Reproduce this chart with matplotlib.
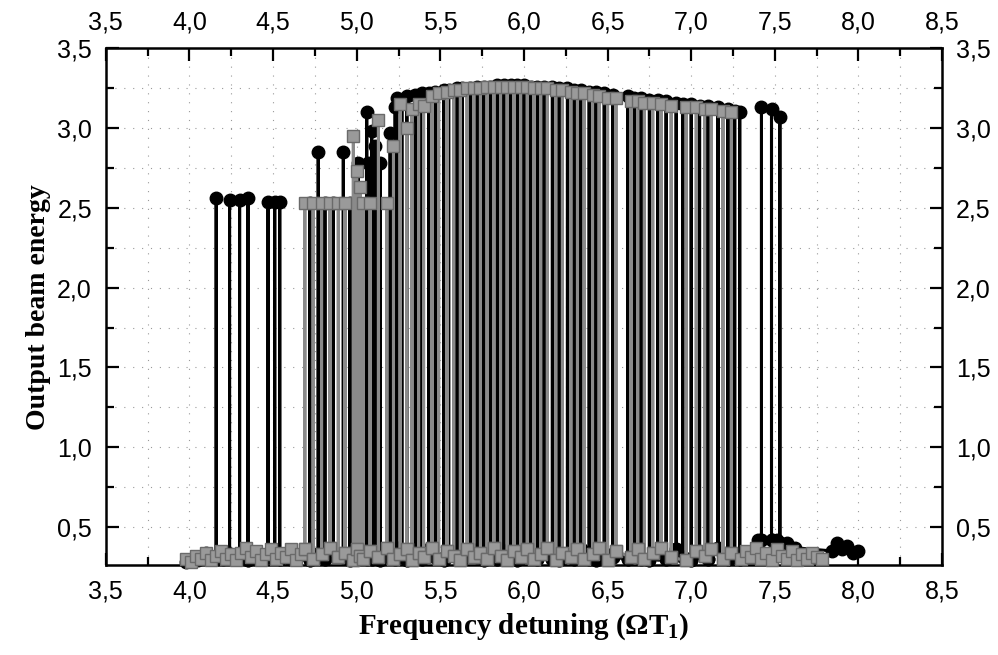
import numpy as np
import matplotlib
matplotlib.use("Agg")
import matplotlib.pyplot as plt
from matplotlib.ticker import MultipleLocator, FuncFormatter

plt.rcParams['mathtext.default'] = 'regular'

# black circles: spikes from the low branch up to the upper branch
black_spike_x = [4.16, 4.24, 4.30, 4.35, 4.47, 4.51, 4.54, 4.72, 4.77, 4.81, 4.86, 4.92,
                 4.96, 5.01, 5.06, 5.07, 5.09, 5.11, 5.14, 5.20, 5.23, 5.24, 5.27, 5.30,
                 5.35, 5.39, 5.43, 5.47, 5.52, 5.55, 5.60, 5.63, 5.68, 5.72, 5.76, 5.80,
                 5.84, 5.88, 5.92, 5.96, 6.00, 6.04, 6.08, 6.12, 6.17, 6.21, 6.26, 6.30,
                 6.34, 6.39, 6.43, 6.48, 6.53, 6.62, 6.66, 6.70, 6.75, 6.80, 6.85, 6.91,
                 6.95, 7.00, 7.05, 7.10, 7.16, 7.22, 7.26, 7.29, 7.42, 7.48, 7.53]
black_spike_y = [2.56, 2.55, 2.55, 2.56, 2.54, 2.54, 2.54, 2.53, 2.85, 2.53, 2.53, 2.85,
                 2.53, 2.78, 3.10, 2.78, 2.98, 2.89, 2.78, 2.97, 3.13, 3.19, 3.18, 3.20,
                 3.21, 3.22, 3.22, 3.23, 3.24, 3.24, 3.25, 3.25, 3.25, 3.26, 3.26, 3.26,
                 3.27, 3.27, 3.27, 3.27, 3.27, 3.26, 3.26, 3.26, 3.26, 3.25, 3.25, 3.24,
                 3.24, 3.23, 3.23, 3.22, 3.21, 3.20, 3.19, 3.19, 3.18, 3.18, 3.17, 3.16,
                 3.15, 3.15, 3.14, 3.14, 3.13, 3.12, 3.11, 3.10, 3.13, 3.12, 3.07]
black_spike_low = [0.30, 0.33, 0.30, 0.29, 0.31, 0.34, 0.30, 0.29, 0.33, 0.30, 0.36, 0.31,
                   0.29, 0.33, 0.30, 0.35, 0.30, 0.31, 0.29, 0.34, 0.30, 0.37, 0.31, 0.29,
                   0.33, 0.30, 0.36, 0.31, 0.29, 0.34, 0.31, 0.30, 0.37, 0.31, 0.29, 0.33,
                   0.30, 0.35, 0.31, 0.29, 0.34, 0.31, 0.30, 0.37, 0.30, 0.29, 0.33, 0.30,
                   0.36, 0.30, 0.29, 0.34, 0.31, 0.30, 0.37, 0.30, 0.29, 0.33, 0.30, 0.36,
                   0.31, 0.29, 0.34, 0.30, 0.37, 0.30, 0.31, 0.30, 0.42, 0.42, 0.40]
# black circles staying on the low branch
black_base_x = [3.98, 4.05, 4.10, 4.20, 4.40, 4.60, 7.40, 7.51, 7.57, 7.62, 7.84, 7.87,
                7.90, 7.93, 7.97, 8.00]
black_base_y = [0.28, 0.29, 0.34, 0.30, 0.30, 0.30, 0.42, 0.42, 0.40, 0.37, 0.35, 0.40,
                0.36, 0.38, 0.34, 0.35]

# grey squares
grey_spike_x = [4.69, 4.74, 4.79, 4.84, 4.89, 4.93, 4.98, 5.00, 5.02, 5.04, 5.08, 5.13,
                5.18, 5.22, 5.26, 5.30, 5.33, 5.37, 5.40, 5.45, 5.49, 5.54, 5.58, 5.62,
                5.66, 5.70, 5.74, 5.78, 5.82, 5.86, 5.90, 5.94, 5.98, 6.02, 6.06, 6.10,
                6.14, 6.19, 6.23, 6.28, 6.32, 6.36, 6.41, 6.45, 6.50, 6.55, 6.64, 6.68,
                6.72, 6.77, 6.82, 6.88, 6.97, 7.03, 7.08, 7.12, 7.19, 7.24]
grey_spike_y = [2.53, 2.53, 2.53, 2.53, 2.53, 2.53, 2.95, 2.73, 2.63, 2.53, 2.53, 3.05,
                2.53, 2.89, 3.15, 3.00, 3.12, 3.15, 3.14, 3.20, 3.22, 3.23, 3.24, 3.24,
                3.25, 3.25, 3.25, 3.26, 3.26, 3.26, 3.26, 3.26, 3.26, 3.26, 3.25, 3.25,
                3.25, 3.24, 3.24, 3.23, 3.22, 3.22, 3.21, 3.20, 3.19, 3.19, 3.17, 3.17,
                3.16, 3.16, 3.15, 3.14, 3.13, 3.13, 3.12, 3.12, 3.11, 3.10]
grey_spike_low = [0.36, 0.30, 0.33, 0.37, 0.31, 0.34, 0.29, 0.36, 0.32, 0.30, 0.35, 0.31,
                  0.37, 0.30, 0.33, 0.36, 0.29, 0.34, 0.31, 0.37, 0.30, 0.35, 0.32, 0.29,
                  0.36, 0.31, 0.34, 0.30, 0.37, 0.32, 0.29, 0.35, 0.31, 0.36, 0.30, 0.33,
                  0.37, 0.29, 0.34, 0.31, 0.36, 0.30, 0.33, 0.37, 0.29, 0.35, 0.31, 0.36,
                  0.30, 0.34, 0.37, 0.31, 0.29, 0.35, 0.32, 0.36, 0.30, 0.34]
grey_base_x = [3.98, 4.01, 4.04, 4.07, 4.10, 4.13, 4.16, 4.19, 4.22, 4.25, 4.28, 4.31,
               4.34, 4.37, 4.40, 4.43, 4.46, 4.49, 4.52, 4.55, 4.58, 4.61, 4.64, 4.67,
               7.30, 7.33, 7.36, 7.39, 7.42, 7.45, 7.48, 7.51, 7.54, 7.57, 7.60, 7.63,
               7.66, 7.69, 7.72, 7.75, 7.78]
grey_base_y = [0.30, 0.28, 0.32, 0.30, 0.34, 0.29, 0.32, 0.35, 0.30, 0.33, 0.29, 0.34,
               0.37, 0.31, 0.35, 0.29, 0.33, 0.36, 0.30, 0.34, 0.31, 0.36, 0.29, 0.33,
               0.30, 0.35, 0.31, 0.37, 0.30, 0.34, 0.29, 0.36, 0.32, 0.30, 0.35, 0.29,
               0.33, 0.30, 0.34, 0.31, 0.30]

ticks_x = [3.5, 4.0, 4.5, 5.0, 5.5, 6.0, 6.5, 7.0, 7.5, 8.0, 8.5]
ticks_y = [0.5, 1.0, 1.5, 2.0, 2.5, 3.0, 3.5]


def trace(sx, sy, slow, bx, by):
    # each spike: low -> high -> low at the same detuning
    pts = [(x, lo, hi) for x, hi, lo in zip(sx, sy, slow)]
    pts += [(x, y, None) for x, y in zip(bx, by)]
    pts.sort(key=lambda p: p[0])
    xs, ys = [], []
    for x, lo, hi in pts:
        if hi is None:
            xs.append(x); ys.append(lo)
        else:
            xs += [x, x, x]; ys += [lo, hi, lo]
    return xs, ys


fig = plt.figure(figsize=(9.98, 6.55), dpi=100)
ax = fig.add_axes([0.106, 0.137, 0.838, 0.789])

bx, by = trace(black_spike_x, black_spike_y, black_spike_low, black_base_x, black_base_y)
gx, gy = trace(grey_spike_x, grey_spike_y, grey_spike_low, grey_base_x, grey_base_y)

ax.plot(bx, by, '-', color='black', lw=2.2, marker='o', ms=9,
        mfc='black', mec='black', clip_on=False, zorder=3)
ax.plot(gx, gy, '-', color='#8a8a8a', lw=2.2, marker='s', ms=8,
        mfc='#9a9a9a', mec='#6a6a6a', clip_on=False, zorder=4)

ax.set_xlim(3.5, 8.5)
ax.set_ylim(0.26, 3.5)
ax.set_xticks(ticks_x)
ax.set_yticks(ticks_y)
ax.xaxis.set_minor_locator(MultipleLocator(0.25))
ax.yaxis.set_minor_locator(MultipleLocator(0.25))
comma = FuncFormatter(lambda v, p: ('%.1f' % v).replace('.', ','))
ax.xaxis.set_major_formatter(comma)
ax.yaxis.set_major_formatter(comma)

ax.tick_params(which='both', direction='in', top=True, right=True,
               labeltop=True, labelright=True, width=1.6)
ax.tick_params(which='major', length=9, pad=10, labelsize=18)
ax.tick_params(which='minor', length=6)
for lab in ax.get_xticklabels() + ax.get_yticklabels():
    lab.set_fontfamily('Liberation Sans')
for s in ax.spines.values():
    s.set_linewidth(1.8)

ax.grid(True, which='both', color='#9a9a9a', lw=0.8, ls=(0, (1, 7)))
ax.set_axisbelow(True)

ax.set_xlabel('Frequency detuning (ΩT$_1$)', family='Liberation Serif',
              weight='bold', fontsize=21, labelpad=6)
ax.set_ylabel('Output beam energy', family='Liberation Serif',
              weight='bold', fontsize=20, labelpad=4)

fig.savefig('out.png', dpi=100)
